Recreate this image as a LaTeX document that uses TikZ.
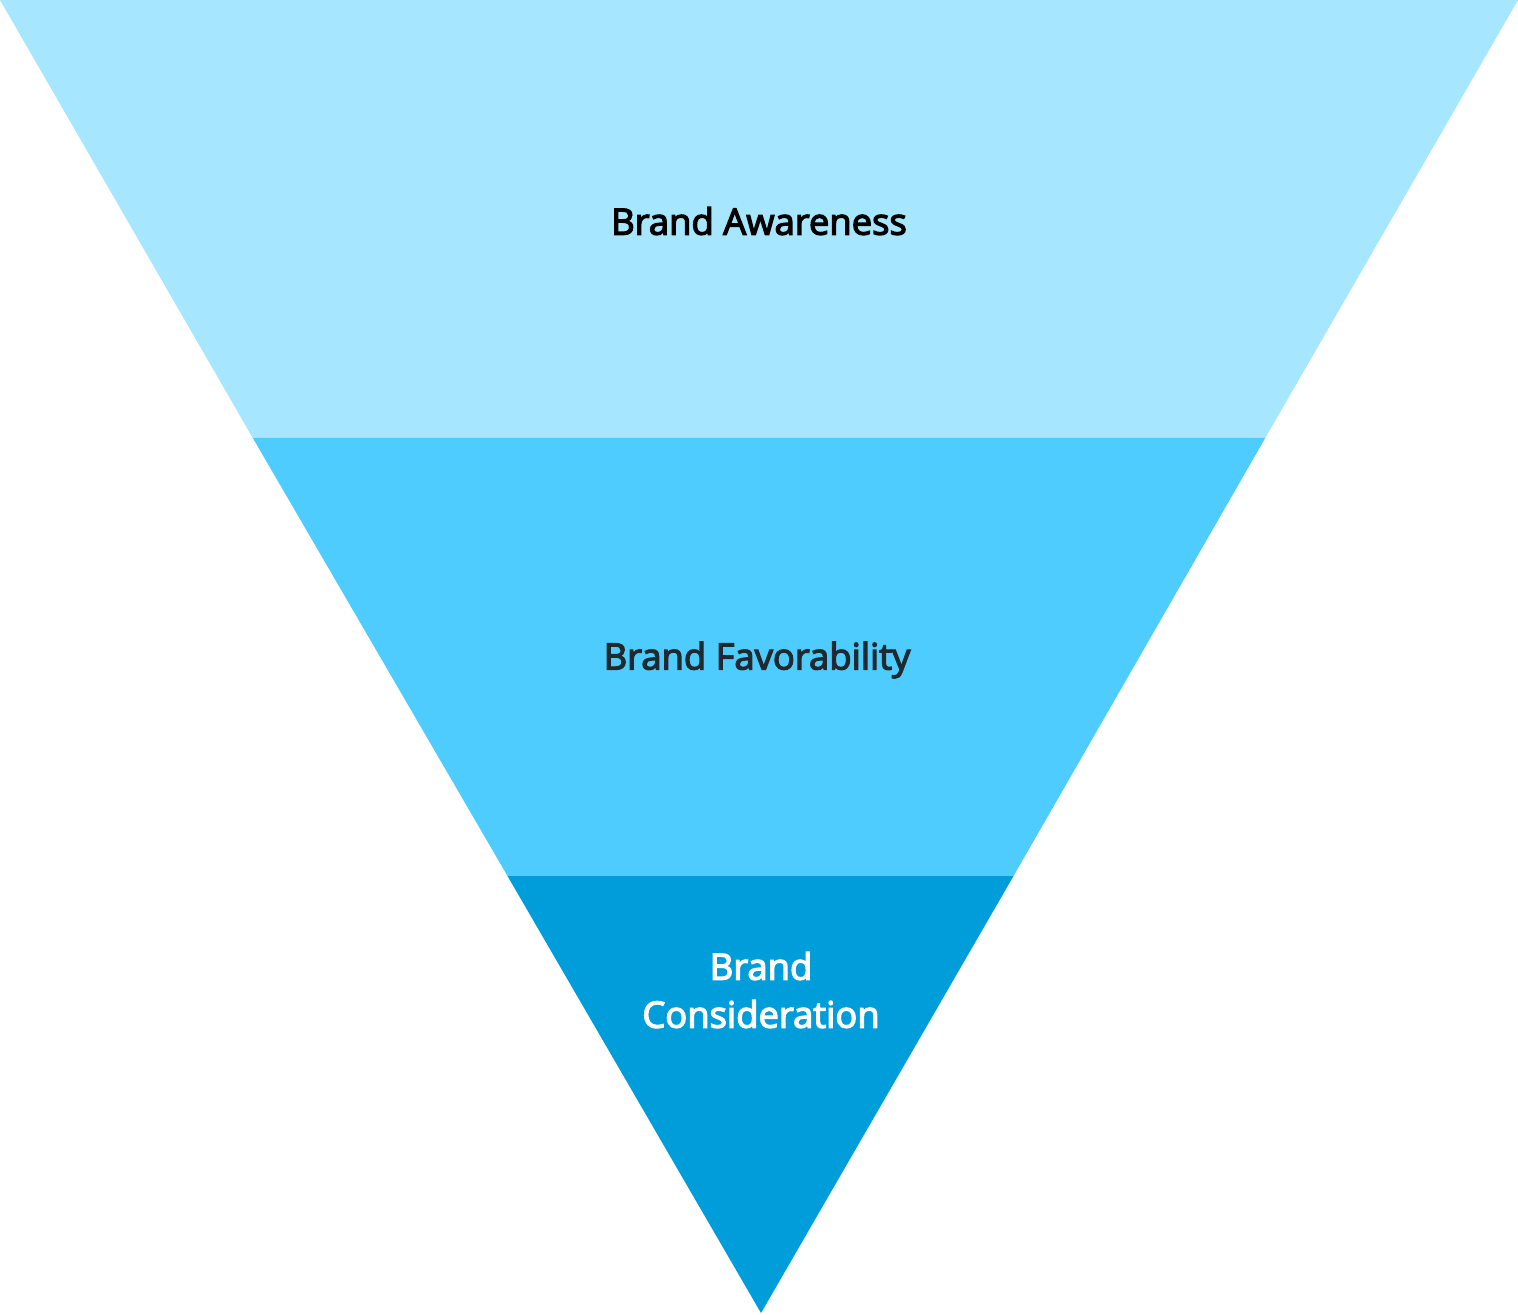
\documentclass[tikz,border=0pt]{standalone}
\usepackage{fontspec}
\IfFontExistsTF{Open Sans}
  {\setmainfont{Open Sans}[UprightFeatures={RawFeature={embolden=3.5}}]}
  {\setmainfont{Fira Sans}[UprightFont=* Medium, LetterSpace=5]}
\definecolor{tierA}{HTML}{A6E6FE}
\definecolor{tierB}{HTML}{4ECCFE}
\definecolor{tierC}{HTML}{009DDB}
\definecolor{txtB}{HTML}{1F2A30}
\begin{document}
\begin{tikzpicture}[x=0.5pt,y=-0.5pt,
  tierlabel/.style={font=\fontsize{18.2}{24}\selectfont, align=center, inner sep=0pt}]
\useasboundingbox (0,0) rectangle (1518,1314);
\coordinate (tl) at (0,0);
\coordinate (tr) at (1518,0);
\coordinate (ml) at (252.5,437.5);
\coordinate (mr) at (1265.5,437.5);
\coordinate (bl) at (507.5,876);
\coordinate (br) at (1013.5,876);
\coordinate (apex) at (761,1313);
\fill[tierA] (tl) -- (tr) -- (mr) -- (ml) -- cycle;
\fill[tierB] (ml) -- (mr) -- (br) -- (bl) -- cycle;
\fill[tierC] (bl) -- (br) -- (apex) -- cycle;
\node[tierlabel, text=black] (aw) at (759,221) {Brand Awareness};
\node[tierlabel, text=txtB] (fav) at (757,660) {Brand Favorability};
\node[tierlabel, text=white] (con) at (761,990) {Brand\\Consideration};
\end{tikzpicture}
\end{document}
